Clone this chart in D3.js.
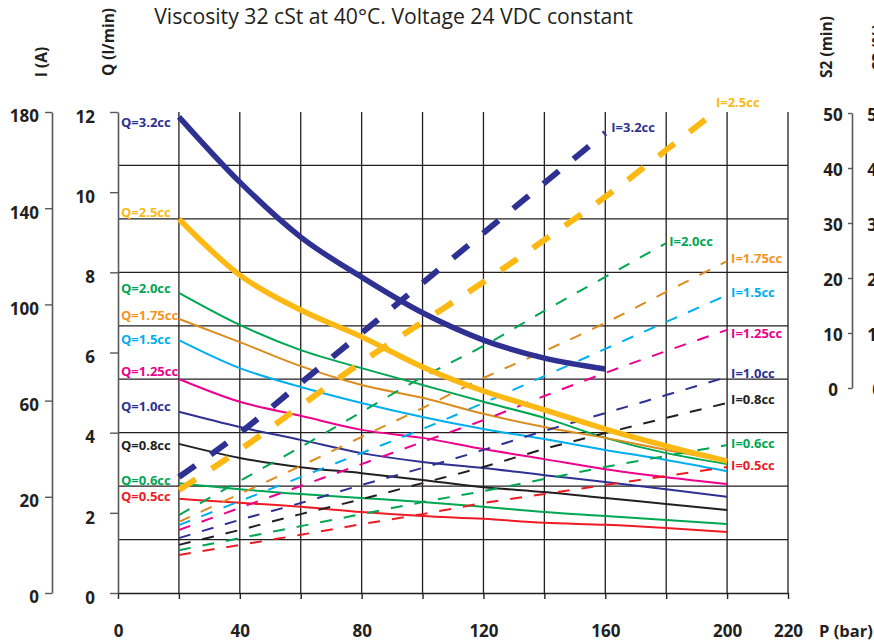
<!DOCTYPE html>
<html>
<head>
<meta charset="utf-8">
<script src="https://cdn.jsdelivr.net/npm/d3@7"></script>
<style>
  html, body { margin: 0; padding: 0; background: #fff; }
  svg { display: block; font-family: "Open Sans", "Noto Sans", sans-serif; }
</style>
</head>
<body>
<svg id="chart" width="874" height="644"></svg>
<script>
// ---- data -------------------------------------------------------------
// pressure points (bar) at which every curve is sampled
const pressure = [20, 40, 60, 80, 100, 120, 140, 160, 180, 200];

// flow Q (l/min) for each displacement
const flow32  = [11.88, 10.25, 8.88, 7.88, 6.99, 6.31, 5.86, 5.59];
const flow25  = [9.33, 7.93, 7.06, 6.39, 5.64, 5.04, 4.57, 4.09, 3.67, 3.29];
const flow20  = [7.49, 6.69, 6.06, 5.61, 5.19, 4.77, 4.37, 3.87, 3.49, 3.22];
const flow175 = [6.84, 6.26, 5.66, 5.19, 4.87, 4.47, 4.14, 3.87, 3.57, 3.29];
const flow15  = [6.31, 5.61, 5.14, 4.74, 4.39, 4.09, 3.84, 3.57, 3.32, 3.04];
const flow125 = [5.34, 4.77, 4.42, 4.07, 3.87, 3.59, 3.34, 3.09, 2.89, 2.72];
const flow10  = [4.52, 4.14, 3.82, 3.49, 3.27, 3.12, 2.94, 2.77, 2.59, 2.40];
const flow08  = [3.72, 3.37, 3.14, 2.99, 2.82, 2.64, 2.52, 2.37, 2.22, 2.07];
const flow06  = [2.74, 2.59, 2.47, 2.37, 2.27, 2.15, 2.02, 1.92, 1.82, 1.72];
const flow05  = [2.35, 2.25, 2.15, 2.02, 1.92, 1.85, 1.75, 1.70, 1.62, 1.52];

// current I (A) for each displacement
const amp32  = [28.2, 46.5, 67.3, 88.1, 108.9, 129.7, 150.5, 171.3];
const amp25  = [22.8, 39.5, 57.8, 76.0, 92.7, 109.3, 126.8, 144.7, 164.2, 180.0];
const amp25P = [20, 40, 60, 80, 100, 120, 140, 160, 180, 196];
const amp20  = [16.2, 26.6, 40.7, 55.3, 69.8, 82.7, 97.3, 111.4, 125.5];
const amp175 = [14.8, 21.2, 32.8, 44.9, 56.9, 69.4, 80.6, 92.3, 105.2, 118.0];
const amp15  = [14.1, 19.1, 28.2, 38.2, 48.2, 59.0, 70.2, 81.5, 92.7, 103.9];
const amp125 = [13.1, 17.7, 24.5, 33.6, 42.8, 51.9, 61.9, 71.5, 80.6, 89.4];
const amp10  = [11.4, 15.2, 18.7, 24.9, 32.0, 39.5, 47.4, 54.8, 62.3, 69.8];
const amp08  = [10.0, 13.1, 16.4, 19.5, 25.7, 32.4, 39.9, 46.5, 52.8, 59.0];
const amp06  = [8.9, 11.4, 13.9, 16.4, 18.9, 22.4, 27.4, 32.4, 37.0, 41.5];
const amp05  = [7.9, 10.0, 12.1, 14.3, 16.4, 18.7, 21.2, 24.9, 28.6, 32.4];

const flowLabels = ["Q=3.2cc", "Q=2.5cc", "Q=2.0cc", "Q=1.75cc", "Q=1.5cc",
                    "Q=1.25cc", "Q=1.0cc", "Q=0.8cc", "Q=0.6cc", "Q=0.5cc"];
const ampLabels  = ["I=3.2cc", "I=2.5cc", "I=2.0cc", "I=1.75cc", "I=1.5cc",
                    "I=1.25cc", "I=1.0cc", "I=0.8cc", "I=0.6cc", "I=0.5cc"];

// axis tick labels
const ampTicks   = [0, 20, 60, 100, 140, 180];
const flowTicks  = [0, 2, 4, 6, 8, 10, 12];
const pressTicks = [0, 20, 40, 60, 80, 100, 120, 140, 160, 180, 200, 220];
const pressLabelled = [0, 40, 80, 120, 160, 200, 220];
const s2Ticks    = [0, 10, 20, 30, 40, 50];
const s3Ticks    = [0, 10, 20, 30, 40, 50];

// ---- styling ---------------------------------------------------------
const NAVY = "#2e3192", GOLD = "#fdb913", GREEN = "#00a651", AMBER = "#dc8c1e",
      SKY = "#00aeef", PINK = "#ec008c", INK = "#231f20", RED = "#ed1c24";
const seriesColors = [NAVY, GOLD, GREEN, AMBER, SKY, PINK, NAVY, INK, GREEN, RED];
const labelColors  = [NAVY, GOLD, GREEN, "#f7941d", SKY, PINK, NAVY, INK, GREEN, RED];
const thickSeries  = [true, true, false, false, false, false, false, false, false, false];

// small label offsets (px) so tags sit beside their curve ends
const flowLabelDy = [6, -7, -4, -3, -1, -8, -5, 2, -3, -2];
const ampLabelDx  = [6, 1, 3, 4, 4, 4, 4, 4, 4, 4];
const ampLabelDy  = [-5, -10, -2, -3, -3, 4, -4, -4, -2, -2];

const flowValues = [flow32, flow25, flow20, flow175, flow15, flow125, flow10, flow08, flow06, flow05];
const ampValues  = [amp32, amp25, amp20, amp175, amp15, amp125, amp10, amp08, amp06, amp05];

const flowSeries = flowValues.map((vals, i) => ({
  label: flowLabels[i],
  pts: vals.map((v, j) => [pressure[j], v]),
  i
}));
const ampSeries = ampValues.map((vals, i) => ({
  label: ampLabels[i],
  pts: vals.map((v, j) => [(i === 1 ? amp25P : pressure)[j], v]),
  i
}));

// ---- scales ----------------------------------------------------------
const svg = d3.select("#chart");
const x  = d3.scaleLinear().domain([0, 220]).range([118, 788]);
const yQ = d3.scaleLinear().domain([0, 12]).range([593, 112]);
const yI = d3.scaleLinear().domain([0, 20, 180]).range([593, 496.8, 112]);
const yS = d3.scaleLinear().domain([0, 50]).range([388, 113]);

const tickFont = g => g.selectAll("text")
  .attr("fill", INK).attr("font-size", 17).attr("font-weight", 700)
  .attr("font-family", '"Open Sans", sans-serif');

// ---- grid ------------------------------------------------------------
const grid = svg.append("g").attr("stroke", INK).attr("stroke-width", 1.3);
grid.selectAll("line.v").data(d3.range(20, 221, 20)).join("line")
  .attr("x1", d => x(d)).attr("x2", d => x(d))
  .attr("y1", yQ(12)).attr("y2", yQ(0));
grid.selectAll("line.h").data(d3.range(1, 9).map(k => k * 12 / 9)).join("line")
  .attr("x1", x(0)).attr("x2", x(220))
  .attr("y1", d => yQ(d)).attr("y2", d => yQ(d));

// ---- axes ------------------------------------------------------------
const styleAxis = (g, col) => {
  g.select(".domain").attr("stroke", col).attr("stroke-width", 1.6);
  g.selectAll(".tick line").attr("stroke", col).attr("stroke-width", 1.4);
};

// pressure axis
const xAxis = svg.append("g").attr("transform", `translate(0,${yQ(0)})`)
  .call(d3.axisBottom(x).tickValues(pressTicks).tickSize(6).tickSizeOuter(0).tickPadding(26)
    .tickFormat(d => pressLabelled.includes(d) ? d : ""));
styleAxis(xAxis, INK);
tickFont(xAxis);

// current axis
const iAxis = svg.append("g").attr("transform", "translate(52,0)")
  .call(d3.axisLeft(yI).tickValues(ampTicks).tickSize(7).tickSizeOuter(0).tickPadding(6));
styleAxis(iAxis, "#58595b");
tickFont(iAxis);
iAxis.selectAll("text").attr("dy", "0.58em");

// flow axis
const qAxis = svg.append("g").attr("transform", `translate(${x(0)},0)`)
  .call(d3.axisLeft(yQ).tickValues(flowTicks).tickSize(8).tickSizeOuter(0).tickPadding(15));
styleAxis(qAxis, "#58595b");
tickFont(qAxis);
qAxis.selectAll("text").attr("dy", "0.6em");

// S2 axis
const s2Axis = svg.append("g").attr("transform", "translate(852,0)")
  .call(d3.axisLeft(yS).tickValues(s2Ticks).tickSize(4).tickSizeOuter(0));
styleAxis(s2Axis, "#58595b");
tickFont(s2Axis);
s2Axis.selectAll("text").attr("text-anchor", "middle").attr("x", -19).attr("dy", "0.42em");

// S3 axis (runs along the right edge)
const s3Axis = svg.append("g").attr("transform", "translate(893,0)")
  .call(d3.axisLeft(yS).tickValues(s3Ticks).tickSize(4).tickSizeOuter(0));
styleAxis(s3Axis, "#58595b");
tickFont(s3Axis);
s3Axis.selectAll("text").attr("text-anchor", "middle").attr("x", -16).attr("dy", "0.42em");

// axis titles
const vTitle = (txt, tx, ty) => svg.append("text")
  .attr("transform", `translate(${tx},${ty}) rotate(-90)`)
  .attr("text-anchor", "middle").attr("font-size", 15.5).attr("font-weight", 700)
  .attr("fill", INK).text(txt);
vTitle("I (A)", 47, 62);
vTitle("Q (l/min)", 114, 42);
vTitle("S2 (min)", 832, 47);
vTitle("S3 (%)", 884, 47);

svg.append("text").attr("x", 819).attr("y", 637)
  .attr("font-size", 16.5).attr("font-weight", 700).attr("fill", INK).text("P (bar)");

svg.append("text").attr("x", 393.5).attr("y", 24).attr("text-anchor", "middle")
  .attr("font-size", 21.2).attr("fill", INK)
  .text("Viscosity 32 cSt at 40°C. Voltage 24 VDC constant");

// ---- curves ----------------------------------------------------------
const qLine = d3.line().x(d => x(d[0])).y(d => yQ(d[1])).curve(d3.curveMonotoneX);
const iLine = d3.line().x(d => x(d[0])).y(d => yI(d[1])).curve(d3.curveMonotoneX);

const drawFlow = list => svg.append("g").attr("fill", "none")
  .selectAll("path").data(list).join("path")
  .attr("d", s => qLine(s.pts))
  .attr("stroke", s => seriesColors[s.i])
  .attr("stroke-width", s => thickSeries[s.i] ? 5.5 : 2);

const drawAmp = list => svg.append("g").attr("fill", "none")
  .selectAll("path").data(list).join("path")
  .attr("d", s => iLine(s.pts))
  .attr("stroke", s => seriesColors[s.i])
  .attr("stroke-width", s => thickSeries[s.i] ? 6 : 2)
  .attr("stroke-dasharray", s => thickSeries[s.i] ? "20,19" : "12,12");

drawFlow(flowSeries.filter(s => !thickSeries[s.i]));
drawAmp(ampSeries.filter(s => !thickSeries[s.i]));
drawFlow(flowSeries.filter(s => thickSeries[s.i]));
drawAmp(ampSeries.filter(s => thickSeries[s.i]));

// ---- curve tags ------------------------------------------------------
const tagFont = sel => sel.attr("font-size", 13).attr("font-weight", 700).attr("dy", "0.35em");

svg.append("g").selectAll("text").data(flowSeries).join("text")
  .attr("x", x(0) + 3)
  .attr("y", s => yQ(s.pts[0][1]) + flowLabelDy[s.i])
  .attr("fill", s => labelColors[s.i])
  .text(s => s.label).call(tagFont);

svg.append("g").selectAll("text").data(ampSeries).join("text")
  .attr("x", s => x(s.pts[s.pts.length - 1][0]) + ampLabelDx[s.i])
  .attr("y", s => yI(s.pts[s.pts.length - 1][1]) + ampLabelDy[s.i])
  .attr("fill", s => labelColors[s.i])
  .text(s => s.label).call(tagFont);
</script>
</body>
</html>
